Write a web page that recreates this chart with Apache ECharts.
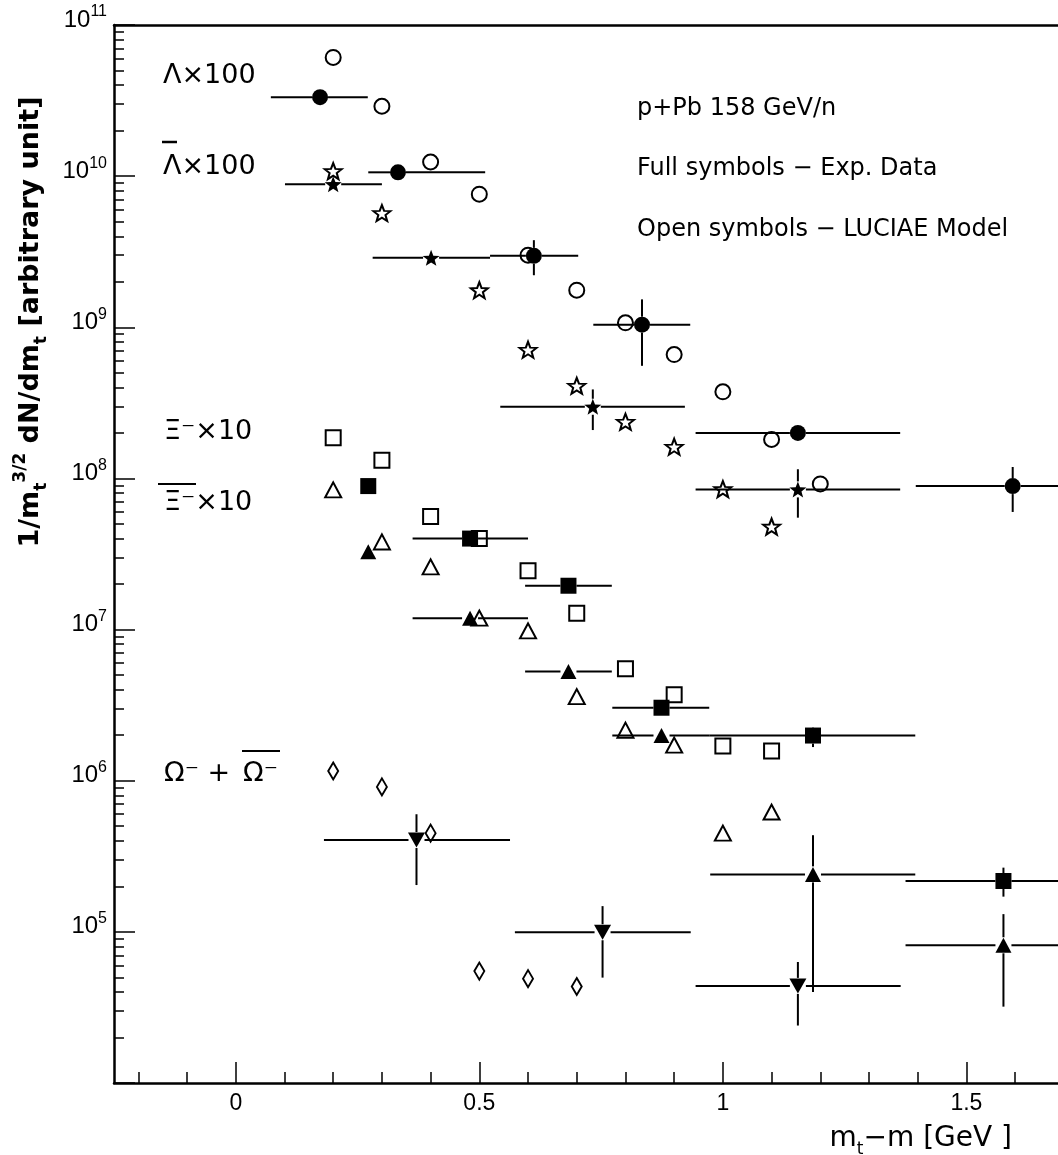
<!DOCTYPE html>
<html>
<head>
<meta charset="utf-8">
<script src="https://cdn.jsdelivr.net/npm/echarts@6/dist/echarts.min.js"></script>
<style>
html,body{margin:0;padding:0;background:#fff;}
#chart{width:1058px;height:1155px;}
</style>
</head>
<body>
<div id="chart"></div>
<script>
// ---------- data (x = mt-m [GeV], y = 1/mt^{3/2} dN/dmt) ----------
// model points: [x, y]
const lambdaModel = [[0.2,6.1e10],[0.3,2.9e10],[0.4,1.24e10],[0.5,7.6e9],[0.6,3.0e9],[0.7,1.76e9],[0.8,1.07e9],[0.9,6.6e8],[1.0,3.74e8],[1.1,1.81e8],[1.2,9.2e7]];
const antiLambdaModel = [[0.2,1.08e10],[0.3,5.7e9],[0.5,1.76e9],[0.6,7.1e8],[0.7,4.1e8],[0.8,2.37e8],[0.9,1.62e8],[1.0,8.5e7],[1.1,4.8e7]];
const xiModel = [[0.2,1.86e8],[0.3,1.32e8],[0.4,5.6e7],[0.5,4.0e7],[0.6,2.45e7],[0.7,1.28e7],[0.8,5.5e6],[0.9,3.7e6],[1.0,1.7e6],[1.1,1.57e6]];
const antiXiModel = [[0.2,8.4e7],[0.3,3.8e7],[0.4,2.6e7],[0.5,1.19e7],[0.6,9.8e6],[0.7,3.6e6],[0.8,2.16e6],[0.9,1.72e6],[1.0,4.5e5],[1.1,6.2e5]];
const omegaModel = [[0.2,1.16e6],[0.3,9.1e5],[0.4,4.5e5],[0.5,5.5e4],[0.6,4.9e4],[0.7,4.35e4]];

// experimental points: [x, y, xLow, xHigh, yHigh, yLow]
const lambdaExp = [
  [0.173,3.33e10,0.072,0.271,null,null],
  [0.333,1.06e10,0.272,0.512,null,null],
  [0.612,2.97e9,0.522,0.703,3.77e9,2.21e9],
  [0.834,1.04e9,0.734,0.933,1.53e9,5.56e8],
  [1.154,2.0e8,0.944,1.364,null,null],
  [1.595,8.9e7,1.396,1.79,1.19e8,6.0e7]
];
const antiLambdaExp = [
  [0.200,8.84e9,0.101,0.300,null,null],
  [0.401,2.88e9,0.281,0.522,null,null],
  [0.733,2.98e8,0.543,0.922,3.88e8,2.09e8],
  [1.154,8.46e7,0.944,1.364,1.15e8,5.5e7]
];
const xiExp = [
  [0.272,8.9e7,null,null,null,null],
  [0.481,4.0e7,0.363,0.600,null,null],
  [0.683,1.95e7,0.594,0.772,null,null],
  [0.874,3.04e6,0.773,0.972,null,null],
  [1.185,1.99e6,0.972,1.395,2.26e6,1.67e6],
  [1.576,2.17e5,1.375,1.78,2.66e5,1.71e5]
];
const antiXiExp = [
  [0.272,3.27e7,null,null,null,null],
  [0.481,1.19e7,0.363,0.600,null,null],
  [0.683,5.27e6,0.594,0.772,null,null],
  [0.874,1.99e6,0.773,0.972,null,null],
  [1.185,2.40e5,0.974,1.395,4.36e5,4.0e4],
  [1.576,8.15e4,1.375,1.78,1.31e5,3.2e4]
];
const omegaExp = [
  [0.371,4.05e5,0.181,0.563,6.0e5,2.04e5],
  [0.753,9.94e4,0.573,0.934,1.48e5,4.98e4],
  [1.154,4.39e4,0.944,1.365,6.32e4,2.4e4]
];

// ---------- axis ticks ----------
const xMajorTicks = [0, 0.5, 1, 1.5];
const xMinorTicks = [-0.2,-0.1,0.1,0.2,0.3,0.4,0.6,0.7,0.8,0.9,1.1,1.2,1.3,1.4,1.6];
const yMajorTicks = [1e4,1e5,1e6,1e7,1e8,1e9,1e10,1e11];
const yLabelTicks = [1e5,1e6,1e7,1e8,1e9,1e10,1e11];
const yMinorTicks = [];
for (let e = 4; e < 11; e++) for (let k = 2; k <= 9; k++) yMinorTicks.push(k * Math.pow(10, e));

const X_MIN = -0.25, X_MAX = 1.688, Y_MIN = 1e4, Y_MAX = 1e11;
const STAR = 'path://M100,0 L124.7,66 L195.1,69.1 L139.9,113 L158.8,180.9 L100,142 L41.2,180.9 L60.1,113 L4.9,69.1 L75.3,66 Z';

const chart = echarts.init(document.getElementById('chart'), null, {renderer:'canvas'});

function errBars(data, gap) {
  return {
    type: 'custom', xAxisIndex: 0, yAxisIndex: 0, silent: true, z: 1,
    data: data,
    encode: {x: 0, y: 1},
    renderItem: function (params, api) {
      const x = api.value(0), y = api.value(1);
      const c = api.coord([x, y]);
      const kids = [];
      const ls = {stroke: '#000', lineWidth: 2};
      const xl = api.value(2), xh = api.value(3), yh = api.value(4), yl = api.value(5);
      if (isFinite(xl) && isFinite(xh)) {
        const pl = api.coord([xl, y])[0], ph = api.coord([xh, y])[0];
        if (pl < c[0] - gap) kids.push({type:'line', shape:{x1:pl, y1:c[1], x2:c[0]-gap, y2:c[1]}, style: ls});
        if (ph > c[0] + gap) kids.push({type:'line', shape:{x1:c[0]+gap, y1:c[1], x2:ph, y2:c[1]}, style: ls});
      }
      if (isFinite(yh) && isFinite(yl) && yh > 0 && yl > 0) {
        const ph = api.coord([x, yh])[1], pl = api.coord([x, yl])[1];
        if (ph < c[1] - gap) kids.push({type:'line', shape:{x1:c[0], y1:ph, x2:c[0], y2:c[1]-gap}, style: ls});
        if (pl > c[1] + gap) kids.push({type:'line', shape:{x1:c[0], y1:c[1]+gap, x2:c[0], y2:pl}, style: ls});
      }
      return {type: 'group', children: kids};
    }
  };
}

function scat(data, symbol, size, open, rotate) {
  return {
    type: 'scatter', xAxisIndex: 0, yAxisIndex: 0, data: data, z: open ? 2 : 3,
    encode: {x: 0, y: 1},
    symbol: symbol, symbolSize: size, symbolRotate: rotate || 0,
    silent: true,
    itemStyle: open ? {color: 'rgba(255,255,255,0)', borderColor: '#000', borderWidth: 2, opacity: 1}
                    : {color: '#000', opacity: 1},
    emphasis: {disabled: true}
  };
}

const tickFont = 'Liberation Sans';
const txtFont = 'DejaVu Sans';

const option = {
  animation: false,
  backgroundColor: '#fff',
  grid: {left: 114, top: 25, right: 0, bottom: 72, containLabel: false},
  xAxis: [
    {type: 'value', position: 'bottom', min: X_MIN, max: X_MAX, splitNumber: 4,
     axisLine: {show: true, onZero: false, lineStyle: {color: '#000', width: 2.5}},
     axisTick: {show: true, inside: true, length: 21, customValues: xMajorTicks, lineStyle: {color: '#000', width: 1.5}},
     axisLabel: {show: true, customValues: xMajorTicks, margin: 9, color: '#000', fontSize: 23, fontFamily: tickFont,
                 formatter: v => String(v)},
     splitLine: {show: false}},
    {type: 'value', position: 'bottom', min: X_MIN, max: X_MAX,
     axisLine: {show: false, onZero: false},
     axisTick: {show: true, inside: true, length: 11, customValues: xMinorTicks, lineStyle: {color: '#000', width: 1.5}},
     axisLabel: {show: false}, splitLine: {show: false}},
    {type: 'value', position: 'top', min: X_MIN, max: X_MAX,
     axisLine: {show: true, onZero: false, lineStyle: {color: '#000', width: 2.5}},
     axisTick: {show: false}, axisLabel: {show: false}, splitLine: {show: false}}
  ],
  yAxis: [
    {type: 'log', logBase: 10, position: 'left', min: Y_MIN, max: Y_MAX,
     axisLine: {show: true, onZero: false, lineStyle: {color: '#000', width: 2.5}},
     axisTick: {show: true, inside: true, length: 21, customValues: yMajorTicks, lineStyle: {color: '#000', width: 1.5}},
     axisLabel: {show: true, customValues: yLabelTicks, margin: 7, fontSize: 24, padding: [0, 0, 10, 0],
       formatter: v => '{b|10}{s|' + Math.round(Math.log10(v)) + '}',
       rich: {b: {fontSize: 24, fontFamily: tickFont, lineHeight: 32, color: '#000'},
              s: {fontSize: 16, fontFamily: tickFont, verticalAlign: 'top', color: '#000'}}},
     splitLine: {show: false}},
    {type: 'log', logBase: 10, position: 'left', min: Y_MIN, max: Y_MAX,
     axisLine: {show: false, onZero: false},
     axisTick: {show: true, inside: true, length: 10, customValues: yMinorTicks, lineStyle: {color: '#000', width: 1.5}},
     axisLabel: {show: false}, splitLine: {show: false}}
  ],
  series: [
    errBars(lambdaExp, 8),
    errBars(antiLambdaExp, 8),
    errBars(xiExp, 8),
    errBars(antiXiExp, 8),
    errBars(omegaExp, 8),
    scat(lambdaModel, 'circle', 15, true),
    scat(antiLambdaModel, STAR, [17, 16], true),
    scat(xiModel, 'rect', 15, true),
    scat(antiXiModel, 'triangle', [16, 15], true),
    scat(omegaModel, 'diamond', [10, 17], true),
    scat(lambdaExp, 'circle', 16, false),
    scat(antiLambdaExp, STAR, [17, 16], false),
    scat(xiExp, 'rect', 16, false),
    scat(antiXiExp, 'triangle', [16, 15], false),
    scat(omegaExp, 'triangle', [17, 15], false, 180)
  ],
  graphic: [
    // y-axis title
    {type: 'text', x: 31, y: 322, rotation: Math.PI / 2, silent: true,
     style: {text: '{a|1/m}{d|t}{u|3/2}{a| dN/dm}{d|t}{a| [arbitrary unit]}', align: 'center', verticalAlign: 'middle', fill: '#000',
       rich: {a: {fontSize: 27, fontFamily: txtFont, fontWeight: 'bold', lineHeight: 38, fill: '#000'},
              d: {fontSize: 17, fontFamily: txtFont, fontWeight: 'bold', verticalAlign: 'bottom', fill: '#000'},
              u: {fontSize: 17, fontFamily: txtFont, fontWeight: 'bold', verticalAlign: 'top', fill: '#000'}}}},
    // x-axis title
    {type: 'text', x: 1012, y: 1139, silent: true,
     style: {text: '{a|m}{d|t}{a|\u2212m [GeV ]}', align: 'right', verticalAlign: 'middle', fill: '#000',
       rich: {a: {fontSize: 28, fontFamily: txtFont, lineHeight: 38, fill: '#000'},
              d: {fontSize: 17, fontFamily: txtFont, verticalAlign: 'bottom', fill: '#000'}}}},
    // info text
    {type: 'text', x: 637, y: 109, silent: true, style: {text: 'p+Pb 158 GeV/n', font: '24px "DejaVu Sans"', fill: '#000', verticalAlign: 'middle'}},
    {type: 'text', x: 637, y: 169, silent: true, style: {text: 'Full symbols \u2212 Exp. Data', font: '24px "DejaVu Sans"', fill: '#000', verticalAlign: 'middle'}},
    {type: 'text', x: 637, y: 230, silent: true, style: {text: 'Open symbols \u2212 LUCIAE Model', font: '24px "DejaVu Sans"', fill: '#000', verticalAlign: 'middle'}},
    // species labels
    {type: 'text', x: 163, y: 76, silent: true, style: {text: '\u039B\u00D7100', font: '27px "DejaVu Sans"', fill: '#000', verticalAlign: 'middle'}},
    {type: 'text', x: 163, y: 167, silent: true, style: {text: '\u039B\u00D7100', font: '27px "DejaVu Sans"', fill: '#000', verticalAlign: 'middle'}},
    {type: 'line', silent: true, shape: {x1: 162, y1: 142, x2: 177, y2: 142}, style: {stroke: '#000', lineWidth: 2.5}},
    {type: 'text', x: 164, y: 432, silent: true, style: {text: '\u039E\u207B\u00D710', font: '27px "DejaVu Sans"', fill: '#000', verticalAlign: 'middle'}},
    {type: 'text', x: 164, y: 503, silent: true, style: {text: '\u039E\u207B\u00D710', font: '27px "DejaVu Sans"', fill: '#000', verticalAlign: 'middle'}},
    {type: 'line', silent: true, shape: {x1: 158, y1: 484, x2: 196, y2: 484}, style: {stroke: '#000', lineWidth: 2}},
    {type: 'text', x: 164, y: 774, silent: true, style: {text: '\u03A9\u207B +', font: '27px "DejaVu Sans"', fill: '#000', verticalAlign: 'middle'}},
    {type: 'text', x: 243, y: 774, silent: true, style: {text: '\u03A9\u207B', font: '27px "DejaVu Sans"', fill: '#000', verticalAlign: 'middle'}},
    {type: 'line', silent: true, shape: {x1: 242, y1: 751, x2: 280, y2: 751}, style: {stroke: '#000', lineWidth: 2}}
  ]
};
chart.setOption(option);
</script>
</body>
</html>
